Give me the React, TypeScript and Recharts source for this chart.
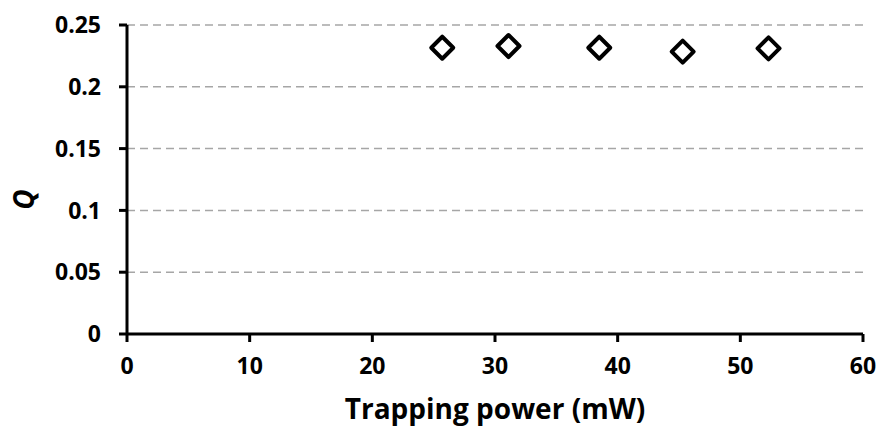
import React from 'react';
import { ScatterChart, Scatter, XAxis, YAxis, CartesianGrid } from 'recharts';

const powerMW = [25.7, 31.1, 38.5, 45.3, 52.3];
const qValues = [0.2316, 0.233, 0.2316, 0.2284, 0.2311];
const xTicks = [0, 10, 20, 30, 40, 50, 60];
const yTicks = [0, 0.05, 0.1, 0.15, 0.2, 0.25];

const points = powerMW.map((p, i) => ({ x: p, y: qValues[i] }));

const FONT = '"Open Sans", sans-serif';

const Diamond = (props: any) => {
  const { cx, cy } = props;
  const r = 11;
  return (
    <path
      d={`M${cx},${cy - r} L${cx + r},${cy} L${cx},${cy + r} L${cx - r},${cy} Z`}
      fill="#fff"
      stroke="#000"
      strokeWidth={4}
      strokeLinejoin="round"
    />
  );
};

const QLabel = (props: any) => {
  const { viewBox } = props;
  const x = 34;
  const y = viewBox.y + viewBox.height / 2 + 20;
  return (
    <text
      x={x}
      y={y}
      transform={`rotate(-90, ${x}, ${y})`}
      textAnchor="middle"
      fill="#000"
      fontSize={28}
      fontWeight={700}
      fontStyle="italic"
      fontFamily={FONT}
    >
      Q
    </text>
  );
};

export default function App() {
  return (
    <div style={{ position: 'absolute', left: 0, top: 0, width: 878, height: 427, background: '#fff' }}>
      <ScatterChart width={878} height={427} margin={{ top: 25, right: 15, left: 0, bottom: 0 }}>
        <CartesianGrid vertical={false} stroke="#a6a6a6" strokeWidth={1.5} strokeDasharray="8 5" />
        <XAxis
          type="number"
          dataKey="x"
          domain={[0, 60]}
          ticks={xTicks}
          height={93}
          axisLine={{ stroke: '#000', strokeWidth: 3 }}
          tickLine={{ stroke: '#000', strokeWidth: 3 }}
          tickSize={8}
          tickMargin={16}
          tick={{ fill: '#000', fontSize: 23, fontWeight: 700, fontFamily: FONT }}
          label={{ value: 'Trapping power (mW)', position: 'insideBottom', offset: 0, dy: -8, fill: '#000', fontSize: 28, fontWeight: 700, fontFamily: FONT }}
        />
        <YAxis
          type="number"
          dataKey="y"
          domain={[0, 0.25]}
          ticks={yTicks}
          width={127}
          axisLine={{ stroke: '#000', strokeWidth: 3 }}
          tickLine={{ stroke: '#000', strokeWidth: 3 }}
          tickSize={8}
          tickMargin={18}
          tickFormatter={(v: number) => String(v)}
          tick={{ fill: '#000', fontSize: 23, fontWeight: 700, fontFamily: FONT }}
          label={<QLabel />}
        />
        <Scatter data={points} shape={Diamond} isAnimationActive={false} />
      </ScatterChart>
    </div>
  );
}
